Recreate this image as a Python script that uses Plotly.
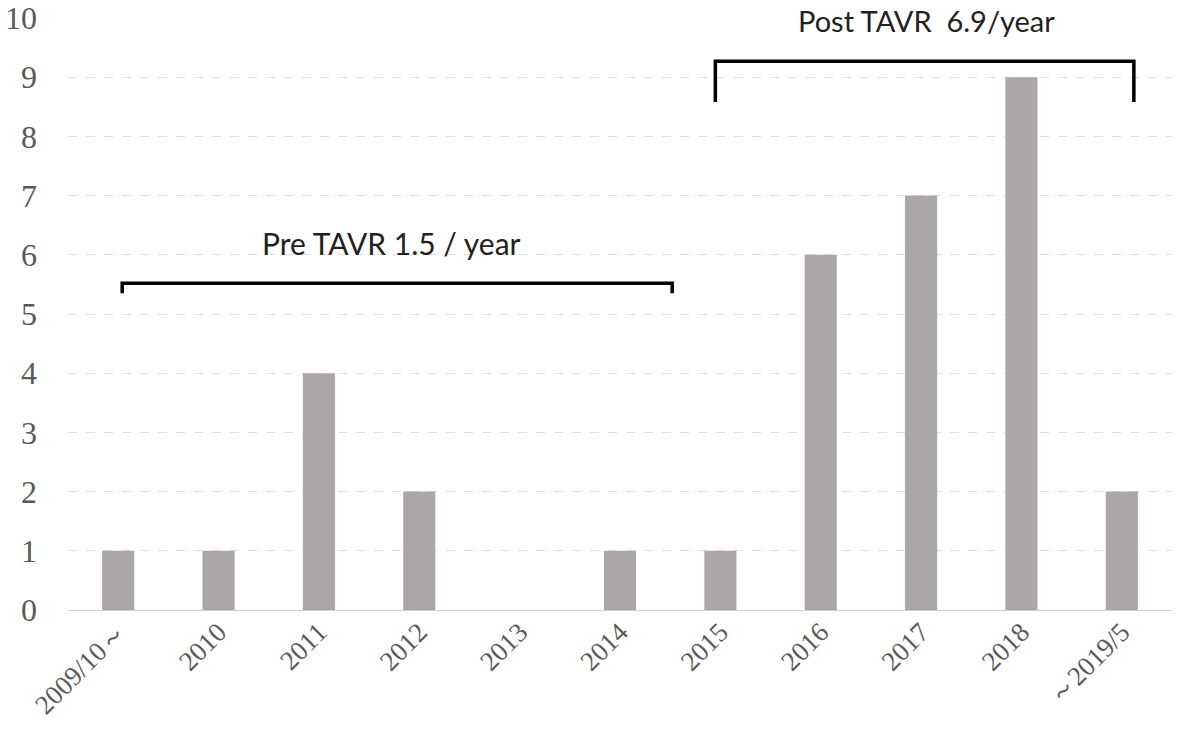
import plotly.graph_objects as go

categories = ["2009/10～", "2010", "2011", "2012", "2013", "2014", "2015", "2016", "2017", "2018", "～2019/5"]
counts = [1, 1, 4, 2, 0, 1, 1, 6, 7, 9, 2]
y_ticks = list(range(0, 11))

pre_label = "Pre TAVR 1.5 / year"
post_label = "Post TAVR  6.9/year"

fig = go.Figure()
fig.add_trace(go.Bar(x=list(range(len(categories))), y=counts, width=0.32,
                     marker=dict(color="#aba7a6", line=dict(width=0))))

# brackets
fig.add_shape(type="path", path="M 0.04,5.35 L 0.04,5.52 L 5.52,5.52 L 5.52,5.35",
              xref="x", yref="y", line=dict(color="black", width=3.5))
fig.add_shape(type="path", path="M 5.95,8.58 L 5.95,9.27 L 10.12,9.27 L 10.12,8.58",
              xref="x", yref="y", line=dict(color="black", width=3.5))

fig.add_annotation(x=2.72, y=6.2, xref="x", yref="y", text=pre_label, showarrow=False,
                   font=dict(family="Lato, Open Sans", size=30, color="#222"))
fig.add_annotation(x=8.05, y=9.95, xref="x", yref="y", text=post_label, showarrow=False,
                   borderpad=0, font=dict(family="Lato, Open Sans", size=29, color="#222"))

fig.update_layout(
    width=1181, height=746,
    margin=dict(l=60, r=17, t=10, b=144),
    plot_bgcolor="white", paper_bgcolor="white",
    showlegend=False,
    font=dict(family="Liberation Serif, DejaVu Serif", size=27, color="#595959"),
)
fig.update_xaxes(
    tickmode="array", tickvals=list(range(len(categories))), ticktext=categories,
    range=[-0.5, len(categories) - 0.5], tickangle=-45, automargin=False,
    showgrid=False, zeroline=False, showline=False, ticks="",
    tickfont=dict(size=27, color="#595959"),
)
fig.update_yaxes(
    range=[0, 10], tickvals=y_ticks, showgrid=True, gridcolor="#e0e0e0", griddash="dash",
    gridwidth=1, zeroline=True, zerolinecolor="#d0d0d0", zerolinewidth=1,
    showline=False, ticks="", ticklabelstandoff=30, automargin=False,
    ticklabeloverflow="allow",
    tickfont=dict(size=32, color="#595959"),
)
fig.write_html("out.html")
